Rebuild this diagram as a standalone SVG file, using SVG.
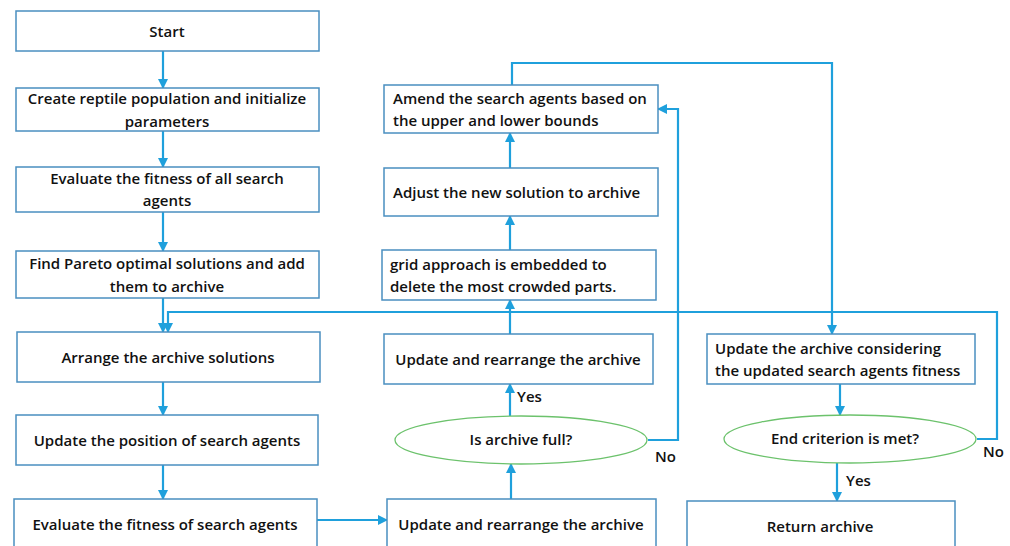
<svg xmlns="http://www.w3.org/2000/svg" width="1010" height="546" viewBox="0 0 1010 546">
<style>
.box{fill:#fff;stroke:#4a8fc0;stroke-width:1.5}
.dec{fill:#fff;stroke:#6cc26c;stroke-width:1.3}
.ln{fill:none;stroke:#1fa0dc;stroke-width:2.2}
text{font-family:"Open Sans","Liberation Sans",sans-serif;font-size:15px;fill:#111;font-weight:600}
.c{text-anchor:middle}
</style>
<defs>
<marker id="ah" markerUnits="userSpaceOnUse" markerWidth="10" markerHeight="10" viewBox="0 0 10 10" refX="9" refY="5" orient="auto">
<path d="M0,0 L10,5 L0,10 z" fill="#1fa0dc"/>
</marker>
</defs>
<rect width="1010" height="546" fill="#fff"/>
<g id="connectors">
<path class="ln" marker-end="url(#ah)" d="M163 51 V88"/>
<path class="ln" marker-end="url(#ah)" d="M163 131 V167"/>
<path class="ln" marker-end="url(#ah)" d="M163 212 V251"/>
<path class="ln" marker-end="url(#ah)" d="M163 298 V332"/>
<path class="ln" marker-end="url(#ah)" d="M977 439 H997 V312 H168 V332"/>
<path class="ln" marker-end="url(#ah)" d="M163 382 V415"/>
<path class="ln" marker-end="url(#ah)" d="M163 465 V499"/>
<path class="ln" marker-end="url(#ah)" d="M317 520 H387"/>
<path class="ln" marker-end="url(#ah)" d="M511 499 V464"/>
<path class="ln" marker-end="url(#ah)" d="M510 416 V384"/>
<path class="ln" marker-end="url(#ah)" d="M510 334 V300"/>
<path class="ln" marker-end="url(#ah)" d="M510 250 V216"/>
<path class="ln" marker-end="url(#ah)" d="M510 168 V133"/>
<path class="ln" marker-end="url(#ah)" d="M648 440 H678 V109 H658"/>
<path class="ln" marker-end="url(#ah)" d="M512 85 V63 H832 V334"/>
<path class="ln" marker-end="url(#ah)" d="M840 384 V415"/>
<path class="ln" marker-end="url(#ah)" d="M837 463 V501"/>
</g>
<g id="start"><rect class="box" x="16" y="11" width="303" height="40"/><text class="c" x="167" y="37">Start</text></g>
<g id="create"><rect class="box" x="16" y="88" width="303" height="43"/><text class="c" x="167" y="104">Create reptile population and initialize</text><text class="c" x="167" y="127">parameters</text></g>
<g id="evalall"><rect class="box" x="16" y="167" width="303" height="45"/><text class="c" x="167" y="184">Evaluate the fitness of all search</text><text class="c" x="167" y="206">agents</text></g>
<g id="pareto"><rect class="box" x="16" y="251" width="303" height="47"/><text class="c" x="167" y="269">Find Pareto optimal solutions and add</text><text class="c" x="167" y="292">them to archive</text></g>
<g id="arrange"><rect class="box" x="17" y="332" width="303" height="50"/><text class="c" x="168" y="363">Arrange the archive solutions</text></g>
<g id="updatepos"><rect class="box" x="16" y="415" width="302" height="50"/><text class="c" x="167" y="446">Update the position of search agents</text></g>
<g id="evalfit"><rect class="box" x="14" y="499" width="303" height="60"/><text class="c" x="165" y="530">Evaluate the fitness of search agents</text></g>
<g id="amend"><rect class="box" x="384" y="85" width="274" height="48"/><text x="393" y="104">Amend the search agents based on</text><text x="393" y="126">the upper and lower bounds</text></g>
<g id="adjust"><rect class="box" x="384" y="168" width="274" height="48"/><text x="393" y="198">Adjust the new solution to archive</text></g>
<g id="grid"><rect class="box" x="382" y="250" width="274" height="50"/><text x="390" y="270">grid approach is embedded to</text><text x="390" y="292">delete the most crowded parts.</text></g>
<g id="updtop"><rect class="box" x="384" y="334" width="269" height="50"/><text class="c" x="518" y="365">Update and rearrange the archive</text></g>
<g id="isfull"><ellipse class="dec" cx="521" cy="440" rx="126" ry="24"/><text class="c" x="521" y="445">Is archive full?</text></g>
<g id="updbot"><rect class="box" x="387" y="499" width="269" height="60"/><text class="c" x="521" y="530">Update and rearrange the archive</text></g>
<g id="updconsider"><rect class="box" x="707" y="334" width="268" height="50"/><text x="715" y="354">Update the archive considering</text><text x="715" y="376">the updated search agents fitness</text></g>
<g id="endcrit"><ellipse class="dec" cx="850" cy="439" rx="126" ry="24"/><text class="c" x="845" y="444">End criterion is met?</text></g>
<g id="ret"><rect class="box" x="687" y="501" width="268" height="60"/><text class="c" x="820" y="532">Return archive</text></g>
<g id="labels">
<text x="517" y="402">Yes</text>
<text x="655" y="462">No</text>
<text x="846" y="486">Yes</text>
<text x="983" y="457">No</text>
</g>
</svg>
